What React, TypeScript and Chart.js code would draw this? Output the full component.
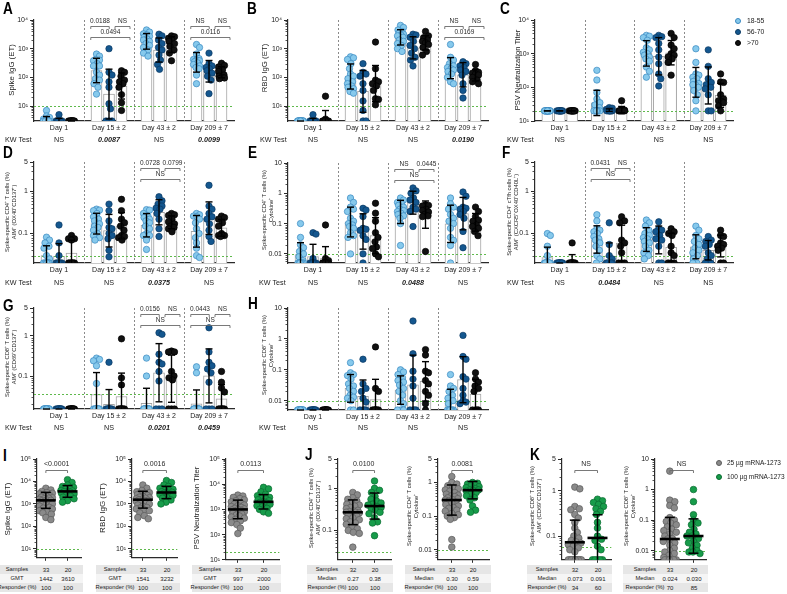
import React, { useEffect, useRef } from "react";
import { Chart, registerables } from "chart.js";

Chart.register(...registerables);

const FONT = "'Liberation Sans', Arial, Helvetica, sans-serif";
Chart.defaults.font.family = FONT;
Chart.defaults.color = "#1a1a1a";

// ---------- labels ----------
const DAYS = ["Day 1", "Day 15 ± 2", "Day 43 ± 2", "Day 209 ± 7"];
const AGE_GROUPS = ["18-55", "56-70", ">70"];
const DOSES = ["25 µg mRNA-1273", "100 µg mRNA-1273"];

const IGG_TICKS = [10, 100, 1000, 10000];
const IGG_TICK_LABELS = ["10¹", "10²", "10³", "10⁴"];
const IGG5_TICKS = [10, 100, 1000, 10000, 100000];
const IGG5_TICK_LABELS = ["10¹", "10²", "10³", "10⁴", "10⁵"];
const PCT5_TICKS = [0.1, 1, 5];
const PCT5_TICK_LABELS = ["0.1", "1", "5"];
const PCT10_TICKS = [0.01, 0.1, 1, 10];
const PCT10_TICK_LABELS = ["0.01", "0.1", "1", "10"];
const PCT5B_TICKS = [0.01, 0.1, 1, 5];
const PCT5B_TICK_LABELS = ["0.01", "0.1", "1", "5"];

// ---------- Panel A: Spike IgG (ET) ----------
const A_18_55 = [
  [7, 4.5, 4, 3.5, 3.5, 3, 3, 3, 3, 3, 3, 3, 3, 3, 3],
  [650, 550, 420, 400, 380, 300, 250, 250, 150, 120, 90, 80, 60, 45, 26],
  [4500, 3800, 3300, 3000, 2700, 2500, 2200, 2000, 1800, 1500, 1300, 1100, 900, 700, 550],
  [1400, 1100, 650, 450, 420, 400, 380, 350, 320, 280, 250, 220, 200, 120, 60],
];
const A_56_70 = [
  [5, 3, 3, 3, 3, 3, 3, 3, 3, 3],
  [1000, 150, 120, 70, 45, 12, 8, 3, 3, 3],
  [3200, 2800, 2000, 1500, 1100, 900, 600, 400, 280, 190],
  [700, 300, 250, 220, 200, 170, 140, 110, 80, 27],
];
const A_70 = [
  [3, 3, 3, 3, 3, 3, 3, 3, 3, 3],
  [170, 150, 110, 80, 70, 60, 45, 25, 13, 7],
  [2800, 2600, 2300, 2000, 1800, 1500, 1200, 900, 700, 380],
  [310, 260, 230, 180, 160, 120, 110, 100, 95, 90],
];
// ---------- Panel B: RBD IgG (ET) ----------
const B_18_55 = [
  [3, 3, 3, 3, 3, 3, 3, 3, 3, 3, 3, 3, 3, 3, 3],
  [520, 480, 420, 300, 200, 130, 110, 90, 70, 60, 50, 45, 40, 32, 28],
  [6500, 5500, 4500, 4000, 3500, 3200, 3000, 2800, 2500, 2000, 1800, 1500, 1300, 1000, 800],
  [1400, 500, 400, 300, 250, 220, 200, 180, 160, 130, 100, 70, 60],
];
const B_56_70 = [
  [5, 3, 3, 3, 3, 3, 3, 3, 3, 3],
  [300, 150, 130, 110, 60, 35, 15, 7, 3, 3],
  [3200, 3000, 2500, 1800, 1300, 1000, 700, 500, 400, 250],
  [350, 300, 250, 220, 180, 160, 120, 60, 35, 19],
];
const B_70 = [
  [22, 3.5, 3, 3, 3, 3, 3, 3, 3, 3],
  [1700, 200, 80, 70, 60, 50, 35, 18, 17, 11],
  [4000, 2800, 2400, 2000, 1800, 1600, 1400, 1100, 800, 600],
  [280, 170, 150, 140, 130, 120, 100, 80, 70, 60],
];
// ---------- Panel C: PSV Neutralization Titer ----------
const C_18_55 = [
  [20, 20, 20, 20, 20, 20, 20, 20, 20, 20, 20, 20, 20, 20, 20],
  [320, 165, 70, 45, 35, 30, 25, 20, 20, 20, 20, 20, 20, 20, 20],
  [3500, 3300, 3000, 2500, 1500, 1300, 1100, 1000, 900, 800, 700, 600, 400, 300, 200],
  [1400, 550, 250, 230, 200, 180, 150, 130, 120, 120, 100, 80, 60, 40, 20],
];
const C_56_70 = [
  [20, 20, 20, 20, 20, 20, 20, 20, 20, 20],
  [25, 24, 22, 20, 20, 20, 20, 20, 20, 20],
  [3500, 3200, 3000, 2000, 1300, 800, 500, 250, 180, 110],
  [1300, 420, 180, 140, 120, 100, 90, 60, 20, 20],
];
const C_70 = [
  [20, 20, 20, 20, 20, 20, 20, 20, 20, 20],
  [40, 22, 21, 20, 20, 20, 20, 20, 20, 20],
  [4000, 3000, 1800, 1400, 1000, 900, 800, 700, 550, 230],
  [250, 145, 140, 60, 45, 40, 38, 35, 28, 20],
];
// ---------- Panel D: CD4 AIM+ (OX40+CD137+) ----------
const D_18_55 = [
  [0.082, 0.07, 0.06, 0.05, 0.045, 0.03, 0.025, 0.02, 0.02, 0.02, 0.02, 0.02, 0.02, 0.02, 0.02],
  [0.38, 0.36, 0.35, 0.3, 0.25, 0.22, 0.2, 0.17, 0.15, 0.14, 0.12, 0.1, 0.09, 0.08, 0.07],
  [0.37, 0.36, 0.3, 0.26, 0.24, 0.22, 0.2, 0.18, 0.15, 0.13, 0.1, 0.09, 0.09, 0.07, 0.042],
  [0.3, 0.28, 0.26, 0.25, 0.22, 0.18, 0.13, 0.1, 0.08, 0.06, 0.045, 0.03, 0.027],
];
const D_56_70 = [
  [0.16, 0.06, 0.03, 0.02, 0.02, 0.02, 0.02, 0.02, 0.02, 0.02],
  [0.5, 0.35, 0.2, 0.14, 0.13, 0.1, 0.09, 0.075, 0.04, 0.028],
  [0.75, 0.6, 0.5, 0.45, 0.4, 0.38, 0.3, 0.22, 0.13, 0.085],
  [1.4, 0.45, 0.38, 0.3, 0.25, 0.22, 0.17, 0.12, 0.085, 0.065],
];
const D_70 = [
  [0.09, 0.075, 0.075, 0.07, 0.02, 0.02, 0.02, 0.02, 0.02, 0.02],
  [0.65, 0.35, 0.22, 0.18, 0.15, 0.12, 0.09, 0.085, 0.08, 0.07],
  [0.3, 0.28, 0.27, 0.22, 0.19, 0.17, 0.15, 0.14, 0.13, 0.11],
  [0.26, 0.24, 0.22, 0.18, 0.15, 0.1, 0.09, 0.09, 0.09, 0.085],
];
// ---------- Panel E: CD4 Cytokine+ ----------
const E_18_55 = [
  [0.1, 0.035, 0.02, 0.016, 0.012, 0.01, 0.008, 0.006, 0.005, 0.005, 0.005, 0.005, 0.005, 0.005, 0.005],
  [0.7, 0.5, 0.35, 0.3, 0.25, 0.15, 0.12, 0.1, 0.09, 0.08, 0.07, 0.05, 0.04, 0.035, 0.01],
  [0.7, 0.6, 0.5, 0.45, 0.4, 0.35, 0.3, 0.27, 0.25, 0.22, 0.2, 0.18, 0.15, 0.1, 0.019],
  [0.7, 0.45, 0.35, 0.3, 0.2, 0.15, 0.12, 0.1, 0.07, 0.035, 0.028, 0.019, 0.005],
];
const E_56_70 = [
  [0.05, 0.045, 0.007, 0.005, 0.005, 0.005, 0.005, 0.005, 0.005, 0.005],
  [0.32, 0.28, 0.17, 0.07, 0.065, 0.06, 0.04, 0.03, 0.01, 0.005],
  [1.5, 1.2, 1.0, 0.7, 0.6, 0.5, 0.35, 0.3, 0.25, 0.08],
  [1.1, 0.8, 0.35, 0.32, 0.3, 0.25, 0.2, 0.15, 0.055, 0.016],
];
const E_70 = [
  [0.09, 0.007, 0.006, 0.005, 0.005, 0.005, 0.005, 0.005, 0.005, 0.005],
  [0.47, 0.22, 0.12, 0.05, 0.035, 0.025, 0.017, 0.015, 0.01, 0.008],
  [0.42, 0.4, 0.38, 0.3, 0.27, 0.24, 0.2, 0.18, 0.17, 0.012],
  [0.35, 0.25, 0.17, 0.13, 0.12, 0.09, 0.08, 0.07, 0.055, 0.04],
];
// ---------- Panel F: CD4 cTfh AIM+ ----------
const F_18_55 = [
  [0.1, 0.09, 0.05, 0.03, 0.02, 0.02, 0.02, 0.02, 0.02, 0.02, 0.02, 0.02, 0.02, 0.02, 0.02],
  [0.28, 0.2, 0.13, 0.12, 0.11, 0.1, 0.085, 0.075, 0.07, 0.06, 0.05, 0.04, 0.03, 0.025, 0.02],
  [0.21, 0.18, 0.15, 0.12, 0.1, 0.09, 0.08, 0.075, 0.065, 0.06, 0.05, 0.04, 0.035, 0.03, 0.025],
  [0.15, 0.12, 0.09, 0.075, 0.065, 0.055, 0.045, 0.04, 0.035, 0.03, 0.025, 0.02, 0.02],
];
const F_56_70 = [
  [0.02, 0.02, 0.02, 0.02, 0.02, 0.02, 0.02, 0.02, 0.02, 0.02],
  [0.18, 0.055, 0.03, 0.025, 0.02, 0.02, 0.02, 0.02, 0.02, 0.02],
  [0.19, 0.13, 0.12, 0.11, 0.09, 0.075, 0.07, 0.05, 0.02, 0.02],
  [0.085, 0.07, 0.065, 0.055, 0.05, 0.035, 0.03, 0.025, 0.02, 0.02],
];
const F_70 = [
  [0.06, 0.02, 0.02, 0.02, 0.02, 0.02, 0.02, 0.02, 0.02, 0.02],
  [0.25, 0.2, 0.18, 0.07, 0.06, 0.05, 0.035, 0.02, 0.02, 0.02],
  [0.13, 0.11, 0.1, 0.09, 0.05, 0.035, 0.03, 0.02, 0.02, 0.02],
  [0.12, 0.09, 0.085, 0.06, 0.055, 0.05, 0.045, 0.04, 0.02, 0.02],
];
// ---------- Panel G: CD8 AIM+ (CD69+CD137+) ----------
const G_18_55 = [
  [0.015, 0.015, 0.015, 0.015, 0.015, 0.015, 0.015, 0.015, 0.015, 0.015, 0.015, 0.015, 0.015, 0.015, 0.015],
  [0.28, 0.26, 0.24, 0.18, 0.065, 0.015, 0.015, 0.015, 0.015, 0.015, 0.015, 0.015, 0.015, 0.015, 0.015],
  [0.28, 0.1, 0.015, 0.015, 0.015, 0.015, 0.015, 0.015, 0.015, 0.015, 0.015, 0.015, 0.015, 0.015, 0.015],
  [0.17, 0.12, 0.015, 0.015, 0.015, 0.015, 0.015, 0.015, 0.015, 0.015, 0.015, 0.015, 0.015, 0.015, 0.015],
];
const G_56_70 = [
  [0.015, 0.015, 0.015, 0.015, 0.015, 0.015, 0.015, 0.015, 0.015, 0.015],
  [0.22, 0.015, 0.015, 0.015, 0.015, 0.015, 0.015, 0.015, 0.015, 0.015],
  [1.2, 1.1, 0.35, 0.22, 0.2, 0.13, 0.075, 0.015, 0.015, 0.015],
  [1.6, 0.4, 0.22, 0.18, 0.15, 0.12, 0.07, 0.015, 0.015, 0.015],
];
const G_70 = [
  [0.015, 0.015, 0.015, 0.015, 0.015, 0.015, 0.015, 0.015, 0.015, 0.015],
  [0.85, 0.09, 0.06, 0.015, 0.015, 0.015, 0.015, 0.015, 0.015, 0.015],
  [0.42, 0.4, 0.4, 0.13, 0.1, 0.09, 0.08, 0.015, 0.015, 0.015],
  [0.13, 0.07, 0.05, 0.04, 0.015, 0.015, 0.015, 0.015, 0.015, 0.015],
];
// ---------- Panel H: CD8 Cytokine+ ----------
const H_18_55 = [
  [0.005, 0.005, 0.005, 0.005, 0.005, 0.005, 0.005, 0.005, 0.005, 0.005, 0.005, 0.005, 0.005, 0.005, 0.005],
  [0.17, 0.08, 0.07, 0.065, 0.05, 0.035, 0.03, 0.025, 0.02, 0.015, 0.013, 0.012, 0.01, 0.005, 0.005],
  [0.1, 0.085, 0.07, 0.055, 0.045, 0.04, 0.032, 0.025, 0.02, 0.015, 0.01, 0.008, 0.005, 0.005, 0.005],
  [0.07, 0.03, 0.025, 0.02, 0.015, 0.012, 0.01, 0.008, 0.005, 0.005, 0.005, 0.005, 0.005, 0.005, 0.005],
];
const H_56_70 = [
  [0.005, 0.005, 0.005, 0.005, 0.005, 0.005, 0.005, 0.005, 0.005, 0.005],
  [0.22, 0.035, 0.025, 0.02, 0.012, 0.009, 0.005, 0.005, 0.005, 0.005],
  [3.8, 0.33, 0.09, 0.05, 0.03, 0.012, 0.005, 0.005, 0.005, 0.005],
  [1.3, 0.27, 0.22, 0.06, 0.05, 0.025, 0.015, 0.01, 0.009, 0.008],
];
const H_70 = [
  [0.005, 0.005, 0.005, 0.005, 0.005, 0.005, 0.005, 0.005, 0.005, 0.005],
  [0.55, 0.025, 0.02, 0.005, 0.005, 0.005, 0.005, 0.005, 0.005, 0.005],
  [0.45, 0.3, 0.09, 0.08, 0.045, 0.035, 0.02, 0.015, 0.008, 0.005],
  [0.08, 0.05, 0.04, 0.03, 0.025, 0.02, 0.005, 0.005, 0.005, 0.005],
];

// ---------- significance brackets (day index, first bar, last bar, label) ----------
const A_BRACKETS = [
  { day: 1, a: 0, b: 1, text: "0.0188" }, { day: 1, a: 1, b: 2, text: "NS" }, { day: 1, a: 0, b: 2, text: "0.0494" },
  { day: 3, a: 0, b: 1, text: "NS" }, { day: 3, a: 1, b: 2, text: "NS" }, { day: 3, a: 0, b: 2, text: "0.0116" },
];
const B_BRACKETS = [
  { day: 3, a: 0, b: 1, text: "NS" }, { day: 3, a: 1, b: 2, text: "NS" }, { day: 3, a: 0, b: 2, text: "0.0169" },
];
const C_BRACKETS: any[] = [];
const D_BRACKETS = [
  { day: 2, a: 0, b: 1, text: "0.0728" }, { day: 2, a: 1, b: 2, text: "0.0799" }, { day: 2, a: 0, b: 2, text: "NS" },
];
const E_BRACKETS = [
  { day: 2, a: 0, b: 1, text: "NS" }, { day: 2, a: 1, b: 2, text: "0.0445" }, { day: 2, a: 0, b: 2, text: "NS" },
];
const F_BRACKETS = [
  { day: 1, a: 0, b: 1, text: "0.0431" }, { day: 1, a: 1, b: 2, text: "NS" }, { day: 1, a: 0, b: 2, text: "NS" },
];
const G_BRACKETS = [
  { day: 2, a: 0, b: 1, text: "0.0156" }, { day: 2, a: 1, b: 2, text: "NS" }, { day: 2, a: 0, b: 2, text: "NS" },
  { day: 3, a: 0, b: 1, text: "0.0443" }, { day: 3, a: 1, b: 2, text: "NS" }, { day: 3, a: 0, b: 2, text: "NS" },
];
const H_BRACKETS: any[] = [];

// ---------- Kruskal-Wallis rows ----------
const KW_A = ["NS", "0.0087", "NS", "0.0099"];
const KW_B = ["NS", "NS", "NS", "0.0190"];
const KW_C = ["NS", "NS", "NS", "NS"];
const KW_D = ["NS", "NS", "0.0375", "NS"];
const KW_E = ["NS", "NS", "0.0488", "NS"];
const KW_F = ["NS", "0.0484", "NS", "NS"];
const KW_G = ["NS", "NS", "0.0201", "0.0459"];
const KW_H = ["NS", "NS", "NS", "NS"];

// ---------- Panels I-K: 25 µg vs 100 µg ----------
const I_SPIKE_25 = [5000, 4200, 3600, 3200, 3000, 2800, 2600, 2400, 2200, 2000, 1900, 1800, 1700, 1600, 1500, 1450, 1400, 1300, 1200, 1100, 1000, 950, 900, 800, 700, 650, 600, 500, 450, 400, 350, 250, 200];
const I_SPIKE_100 = [12000, 9000, 7000, 6000, 5500, 5000, 4500, 4000, 3800, 3600, 3500, 3300, 3000, 2800, 2500, 2200, 2000, 1700, 1400, 1200];
const I_RBD_25 = [7000, 5000, 4000, 3500, 3200, 3000, 2800, 2600, 2400, 2200, 2000, 1900, 1800, 1700, 1600, 1500, 1450, 1400, 1300, 1200, 1100, 1000, 900, 800, 700, 650, 600, 550, 500, 400, 300, 250, 220];
const I_RBD_100 = [11000, 9000, 7000, 6000, 5000, 4500, 4000, 3800, 3500, 3300, 3200, 3000, 2800, 2600, 2400, 2000, 1800, 1500, 1200, 1000];
const I_PSV_25 = [3700, 3400, 3000, 2700, 2400, 2200, 2000, 1800, 1600, 1500, 1400, 1300, 1200, 1100, 1050, 1000, 950, 900, 850, 800, 750, 700, 650, 600, 550, 500, 450, 400, 350, 300, 250, 180, 110];
const I_PSV_100 = [7500, 6500, 5000, 4000, 3500, 3000, 2800, 2600, 2400, 2200, 2000, 1900, 1800, 1600, 1400, 1300, 1100, 1000, 800, 700];
const J_AIM_25 = [0.8, 0.7, 0.6, 0.55, 0.5, 0.45, 0.42, 0.4, 0.38, 0.35, 0.33, 0.3, 0.29, 0.28, 0.27, 0.27, 0.26, 0.25, 0.24, 0.22, 0.2, 0.19, 0.18, 0.16, 0.15, 0.14, 0.12, 0.11, 0.1, 0.09, 0.085, 0.04];
const J_AIM_100 = [1.5, 1.0, 0.9, 0.8, 0.65, 0.55, 0.5, 0.45, 0.42, 0.4, 0.37, 0.35, 0.32, 0.3, 0.27, 0.25, 0.2, 0.16, 0.15, 0.075];
const J_CYT_25 = [1.5, 1.0, 0.9, 0.8, 0.7, 0.65, 0.6, 0.55, 0.5, 0.45, 0.42, 0.4, 0.38, 0.35, 0.33, 0.31, 0.3, 0.28, 0.26, 0.25, 0.22, 0.2, 0.18, 0.17, 0.15, 0.14, 0.12, 0.11, 0.1, 0.09, 0.08, 0.02, 0.012];
const J_CYT_100 = [1.0, 0.95, 0.9, 0.85, 0.8, 0.75, 0.7, 0.65, 0.6, 0.6, 0.58, 0.55, 0.5, 0.45, 0.4, 0.35, 0.3, 0.2, 0.15, 0.13];
const K_AIM_25 = [1.2, 1.1, 0.45, 0.4, 0.38, 0.3, 0.25, 0.2, 0.15, 0.12, 0.1, 0.09, 0.08, 0.075, 0.07, 0.065, 0.06, 0.055, 0.05, 0.045, 0.03, 0.03, 0.03, 0.03, 0.03, 0.03, 0.03, 0.03, 0.03, 0.03, 0.03, 0.03];
const K_AIM_100 = [0.65, 0.6, 0.55, 0.5, 0.45, 0.4, 0.35, 0.3, 0.2, 0.15, 0.1, 0.085, 0.08, 0.06, 0.05, 0.03, 0.03, 0.03, 0.03, 0.03];
const K_CYT_25 = [4.0, 0.45, 0.4, 0.3, 0.25, 0.12, 0.1, 0.09, 0.08, 0.07, 0.06, 0.05, 0.045, 0.04, 0.035, 0.03, 0.025, 0.024, 0.02, 0.018, 0.015, 0.012, 0.01, 0.009, 0.008, 0.007, 0.006, 0.005, 0.005, 0.005, 0.005, 0.005, 0.005];
const K_CYT_100 = [1.0, 0.4, 0.15, 0.1, 0.08, 0.07, 0.05, 0.04, 0.035, 0.03, 0.03, 0.025, 0.02, 0.018, 0.015, 0.012, 0.01, 0.009, 0.009, 0.008];

// centre lines (GMT for I, median for J/K) and table rows
const I_SPIKE_TABLE = [["Samples", "33", "20"], ["GMT", "1442", "3610"], ["Responder (%)", "100", "100"]];
const I_RBD_TABLE = [["Samples", "33", "20"], ["GMT", "1541", "3232"], ["Responder (%)", "100", "100"]];
const I_PSV_TABLE = [["Samples", "33", "20"], ["GMT", "997", "2000"], ["Responder (%)", "100", "100"]];
const J_AIM_TABLE = [["Samples", "32", "20"], ["Median", "0.27", "0.38"], ["Responder (%)", "100", "100"]];
const J_CYT_TABLE = [["Samples", "33", "20"], ["Median", "0.30", "0.59"], ["Responder (%)", "100", "100"]];
const K_AIM_TABLE = [["Samples", "32", "20"], ["Median", "0.073", "0.091"], ["Responder (%)", "34", "60"]];
const K_CYT_TABLE = [["Samples", "33", "20"], ["Median", "0.024", "0.030"], ["Responder (%)", "70", "85"]];
const I_SPIKE_CENTER = [1442, 3610];
const I_RBD_CENTER = [1541, 3232];
const I_PSV_CENTER = [997, 2000];
const J_AIM_CENTER = [0.27, 0.38];
const J_CYT_CENTER = [0.3, 0.59];
const K_AIM_CENTER = [0.073, 0.091];
const K_CYT_CENTER = [0.024, 0.03];
const P_I = ["<0.0001", "0.0016", "0.0113"];
const P_J = ["0.0100", "0.0081"];
const P_K = ["NS", "NS"];

// ---------- styles ----------
const AGE_FILL = ["#86c9ec", "#14578f", "#111111"];
const AGE_EDGE = ["#3a88c0", "#0b3a63", "#000000"];
const DOSE_FILL = ["#8a8a8a", "#179c4a"];
const DOSE_EDGE = ["#5c5c5c", "#0a6a30"];
const LOD_COLOR = "#5fb94c";
const AXIS_COLOR = "#2a2a2a";

function geoStats(vals: number[]) {
  const logs = vals.map((v) => Math.log10(v));
  const m = logs.reduce((a, b) => a + b, 0) / logs.length;
  const sd = logs.length > 1 ? Math.sqrt(logs.reduce((a, b) => a + (b - m) * (b - m), 0) / (logs.length - 1)) : 0;
  return { gm: Math.pow(10, m), gsd: Math.pow(10, sd) };
}

function beeswarm(ys: number[], minDist: number, maxHalf: number): number[] {
  const order = ys.map((_, i) => i).sort((a, b) => ys[a] - ys[b]);
  const cands: number[] = [0];
  for (let d = 0.5; d <= maxHalf + 1e-9; d += 0.5) cands.push(d, -d);
  const placed: { x: number; y: number }[] = [];
  const out = new Array(ys.length).fill(0);
  for (const i of order) {
    const y = ys[i];
    let chosen: number | null = null;
    for (const c of cands) {
      let ok = true;
      for (const q of placed) {
        const dx = q.x - c, dy = q.y - y;
        if (dx * dx + dy * dy < minDist * minDist) { ok = false; break; }
      }
      if (ok) { chosen = c; break; }
    }
    if (chosen === null) {
      let best = 0, bestD = -1;
      for (const c of cands) {
        let m = Infinity;
        for (const q of placed) m = Math.min(m, Math.hypot(q.x - c, q.y - y));
        if (m > bestD + 0.05) { bestD = m; best = c; }
      }
      chosen = best;
    }
    out[i] = chosen;
    placed.push({ x: chosen, y });
  }
  return out;
}

const labelFor = (ticks: number[], labels: string[]) => (v: any) => {
  const i = ticks.findIndex((t) => Math.abs(Math.log10(t) - Math.log10(Number(v))) < 1e-6);
  return i >= 0 ? labels[i] : "";
};

function drawMinorTicks(chart: any, ticks: number[]) {
  const y = chart.scales.y;
  const ax = chart.chartArea.left;
  const ctx = chart.ctx;
  ctx.save();
  ctx.strokeStyle = AXIS_COLOR;
  ctx.lineWidth = 0.8;
  const k0 = Math.floor(Math.log10(y.min)), k1 = Math.ceil(Math.log10(y.max));
  for (let k = k0; k <= k1; k++) {
    for (let m = 2; m <= 9; m++) {
      const v = m * Math.pow(10, k);
      if (v <= y.min * 1.0001 || v >= y.max * 0.9999) continue;
      if (ticks.some((t) => Math.abs(t - v) / t < 1e-6)) continue;
      const py = Math.round(y.getPixelForValue(v)) + 0.5;
      ctx.beginPath();
      ctx.moveTo(ax - 2.5, py);
      ctx.lineTo(ax, py);
      ctx.stroke();
    }
  }
  ctx.restore();
}

function yScale(min: number, max: number, ticks: number[], labels: string[], width: number) {
  return {
    type: "logarithmic",
    min, max,
    grid: { display: true, drawOnChartArea: false, drawTicks: true, tickLength: 4, color: AXIS_COLOR, lineWidth: 1 },
    border: { display: true, color: AXIS_COLOR, width: 1.2 },
    afterBuildTicks: (s: any) => { s.ticks = ticks.map((v) => ({ value: v })); },
    afterFit: (s: any) => { s.width = width; },
    ticks: { callback: labelFor(ticks, labels), font: { size: 7 }, padding: 2, autoSkip: false, color: "#1a1a1a" },
  };
}

type Bracket = { day: number; a: number; b: number; text: string };

type GroupedProps = {
  axisX: number; plotRight: number; plotTop: number; plotBottom: number;
  yMin: number; yMax: number; ticks: number[]; tickLabels: string[];
  groups: number[][][]; lod: number; brackets: Bracket[];
};

function GroupedPanel(p: GroupedProps) {
  const ref = useRef<HTMLCanvasElement>(null);
  const yW = 30, padTop = 8, padRight = 6, xH = 16;
  const left = p.axisX - yW, top = p.plotTop - padTop;
  const width = p.plotRight + padRight - left, height = p.plotBottom + xH - top;
  useEffect(() => {
    const bars: { x: number; y: number }[] = [];
    const errs: { x: number; lo: number; hi: number }[] = [];
    const pointSets = p.groups.map((g, k) => {
      const pts: { x: number; y: number; base: number }[] = [];
      g.forEach((vals, d) => {
        const x = 4 * d + 1 + k;
        const s = geoStats(vals);
        bars.push({ x, y: s.gm });
        errs.push({ x, lo: s.gm / s.gsd, hi: s.gm * s.gsd });
        vals.forEach((v) => pts.push({ x, y: v, base: x }));
      });
      return pts;
    });
    const deco = {
      id: "deco",
      afterDatasetDraw(chart: any, args: any) {
        if (args.index !== 0) return;
        const { ctx, chartArea: a, scales } = chart;
        ctx.save();
        ctx.lineWidth = 1;
        ctx.setLineDash([2, 2]);
        ctx.strokeStyle = "#8a8a8a";
        [4, 8, 12].forEach((v) => {
          const px = Math.round(scales.x.getPixelForValue(v)) + 0.5;
          ctx.beginPath(); ctx.moveTo(px, a.top); ctx.lineTo(px, a.bottom); ctx.stroke();
        });
        ctx.strokeStyle = LOD_COLOR;
        const ly = Math.round(scales.y.getPixelForValue(p.lod)) + 0.5;
        ctx.beginPath(); ctx.moveTo(a.left, ly); ctx.lineTo(a.right, ly); ctx.stroke();
        ctx.restore();
      },
      afterDatasetsDraw(chart: any) {
        const { ctx, chartArea: a, scales } = chart;
        const x = scales.x, y = scales.y;
        ctx.save();
        ctx.strokeStyle = "#000";
        ctx.lineWidth = 1.4;
        errs.forEach((e) => {
          const px = x.getPixelForValue(e.x);
          const hiRaw = y.getPixelForValue(e.hi), loRaw = y.getPixelForValue(e.lo);
          const hi = Math.max(hiRaw, a.top), lo = Math.min(loRaw, a.bottom);
          ctx.beginPath(); ctx.moveTo(px, hi); ctx.lineTo(px, lo); ctx.stroke();
          ctx.beginPath(); ctx.moveTo(px - 3.5, hi); ctx.lineTo(px + 3.5, hi); ctx.stroke();
          if (loRaw < a.bottom - 0.5) { ctx.beginPath(); ctx.moveTo(px - 3.5, lo); ctx.lineTo(px + 3.5, lo); ctx.stroke(); }
        });
        // brackets
        ctx.lineWidth = 0.9;
        ctx.strokeStyle = "#6a6a6a";
        ctx.fillStyle = "#2a2a2a";
        ctx.font = `6.5px ${FONT}`;
        ctx.textAlign = "center";
        ctx.textBaseline = "middle";
        p.brackets.forEach((b) => {
          const base = 4 * b.day + 1;
          let x0: number, x1: number, row: number;
          if (b.b - b.a === 2) { x0 = base - 0.46; x1 = base + 2.68; row = 1; }
          else if (b.a === 0) { x0 = base - 0.46; x1 = base + 1.02; row = 0; }
          else { x0 = base + 1.48; x1 = base + 2.68; row = 0; }
          const yy = Math.round(a.top + (row ? 17 : 6)) + 0.5;
          const p0 = x.getPixelForValue(x0), p1 = x.getPixelForValue(x1);
          ctx.beginPath();
          ctx.moveTo(p0, yy + 2.5); ctx.lineTo(p0, yy); ctx.lineTo(p1, yy); ctx.lineTo(p1, yy + 2.5);
          ctx.stroke();
          ctx.fillText(b.text, (p0 + p1) / 2, yy - 5);
        });
        ctx.restore();
      },
      afterDraw(chart: any) { drawMinorTicks(chart, p.ticks); },
    };
    const chart = new Chart(ref.current as HTMLCanvasElement, {
      type: "bar",
      data: {
        datasets: [
          { type: "bar", data: bars, backgroundColor: "#ffffff", borderColor: "#a4a4a4", borderWidth: 1, barThickness: 11, order: 5 } as any,
          ...pointSets.map((pts, k) => ({
            type: "scatter", data: pts, backgroundColor: AGE_FILL[k], borderColor: AGE_EDGE[k],
            borderWidth: 0.7, pointRadius: 3.2, order: 1,
          })) as any,
        ],
      },
      options: {
        animation: false, responsive: false, devicePixelRatio: 1, events: [],
        layout: { padding: { top: padTop, right: padRight, left: 0, bottom: 0 } },
        plugins: { legend: { display: false }, tooltip: { enabled: false } },
        scales: {
          x: {
            type: "linear", min: 0, max: 16, offset: false,
            grid: { display: false, drawTicks: false, offset: false },
            border: { display: true, color: AXIS_COLOR, width: 1.2 },
            afterBuildTicks: (s: any) => { s.ticks = [2, 6, 10, 14].map((v) => ({ value: v })); },
            afterFit: (s: any) => { s.height = xH; },
            ticks: { callback: (_v: any, i: number) => DAYS[i], font: { size: 7 }, padding: 3, maxRotation: 0, autoSkip: false, color: "#1a1a1a" },
          },
          y: yScale(p.yMin, p.yMax, p.ticks, p.tickLabels, yW),
        } as any,
      },
      plugins: [deco],
    } as any);
    // spread points horizontally inside each column (beeswarm)
    const xs = chart.scales.x, ys = chart.scales.y;
    const pxPerUnit = xs.getPixelForValue(1) - xs.getPixelForValue(0);
    pointSets.forEach((pts) => {
      for (let d = 0; d < 4; d++) {
        const idx = pts.map((q, i) => i).filter((i) => Math.floor((pts[i].base - 1) / 4) === d);
        const off = beeswarm(idx.map((i) => ys.getPixelForValue(pts[i].y)), 5.2, 3.2);
        idx.forEach((i, j) => { pts[i].x = pts[i].base + off[j] / pxPerUnit; });
      }
    });
    chart.update("none");
    return () => chart.destroy();
  }, []);
  return <canvas ref={ref} width={width} height={height} style={{ position: "absolute", left, top, width, height }} />;
}

type PairProps = {
  axisX: number; plotRight: number; plotTop: number; plotBottom: number; cols: number[];
  yMin: number; yMax: number; ticks: number[]; tickLabels: string[];
  low: number[]; high: number[]; centers: number[]; lod: number; pText: string;
};

function PairPanel(p: PairProps) {
  const ref = useRef<HTMLCanvasElement>(null);
  const yW = 28, padTop = 8, padRight = 4, xH = 4;
  const left = p.axisX - yW, top = p.plotTop - padTop;
  const width = p.plotRight + padRight - left, height = p.plotBottom + xH + 2 - top;
  useEffect(() => {
    const u = p.cols[1] - p.cols[0];
    const xmin = -(p.cols[0] - p.axisX) / u;
    const xmax = 1 + (p.plotRight - p.cols[1]) / u;
    const sets = [p.low, p.high].map((vals, k) => vals.map((v) => ({ x: k, y: v, base: k })));
    const deco = {
      id: "deco2",
      beforeDatasetsDraw(chart: any) {
        const { ctx, chartArea: a, scales } = chart;
        ctx.save();
        ctx.lineWidth = 1; ctx.setLineDash([2, 2]); ctx.strokeStyle = LOD_COLOR;
        const ly = Math.round(scales.y.getPixelForValue(p.lod)) + 0.5;
        ctx.beginPath(); ctx.moveTo(a.left, ly); ctx.lineTo(a.right, ly); ctx.stroke();
        ctx.restore();
      },
      afterDatasetsDraw(chart: any) {
        const { ctx, chartArea: a, scales } = chart;
        const x = scales.x, y = scales.y;
        ctx.save();
        ctx.strokeStyle = "#000";
        [p.low, p.high].forEach((vals, k) => {
          const s = geoStats(vals);
          const c = p.centers[k];
          const px = x.getPixelForValue(k);
          const hiRaw = y.getPixelForValue(c * s.gsd), loRaw = y.getPixelForValue(c / s.gsd);
          const hi = Math.max(hiRaw, a.top), lo = Math.min(loRaw, a.bottom);
          ctx.lineWidth = 1.5;
          ctx.beginPath(); ctx.moveTo(px, hi); ctx.lineTo(px, lo); ctx.stroke();
          ctx.beginPath(); ctx.moveTo(px - 5, hi); ctx.lineTo(px + 5, hi); ctx.stroke();
          if (loRaw < a.bottom - 0.5) { ctx.beginPath(); ctx.moveTo(px - 5, lo); ctx.lineTo(px + 5, lo); ctx.stroke(); }
          ctx.lineWidth = 2.6;
          const cy = y.getPixelForValue(c);
          ctx.beginPath(); ctx.moveTo(px - 10, cy); ctx.lineTo(px + 10, cy); ctx.stroke();
        });
        // bracket
        ctx.lineWidth = 0.9; ctx.strokeStyle = "#6a6a6a"; ctx.fillStyle = "#2a2a2a";
        ctx.font = `7px ${FONT}`; ctx.textAlign = "center"; ctx.textBaseline = "middle";
        const yy = Math.round(a.top + 11) + 0.5;
        const p0 = x.getPixelForValue(0), p1 = x.getPixelForValue(1);
        ctx.beginPath(); ctx.moveTo(p0, yy + 2.5); ctx.lineTo(p0, yy); ctx.lineTo(p1, yy); ctx.lineTo(p1, yy + 2.5); ctx.stroke();
        ctx.fillText(p.pText, (p0 + p1) / 2, yy - 6);
        ctx.restore();
      },
      afterDraw(chart: any) { drawMinorTicks(chart, p.ticks); },
    };
    const chart = new Chart(ref.current as HTMLCanvasElement, {
      type: "scatter",
      data: {
        datasets: sets.map((pts, k) => ({
          data: pts, backgroundColor: DOSE_FILL[k], borderColor: DOSE_EDGE[k], borderWidth: 0.7, pointRadius: 3.3,
        })) as any,
      },
      options: {
        animation: false, responsive: false, devicePixelRatio: 1, events: [],
        layout: { padding: { top: padTop, right: padRight, left: 0, bottom: 2 } },
        plugins: { legend: { display: false }, tooltip: { enabled: false } },
        scales: {
          x: {
            type: "linear", min: xmin, max: xmax, offset: false,
            grid: { display: true, drawOnChartArea: false, drawTicks: true, tickLength: 3, color: AXIS_COLOR },
            border: { display: true, color: AXIS_COLOR, width: 1.2 },
            afterBuildTicks: (s: any) => { s.ticks = [0, 1].map((v) => ({ value: v })); },
            afterFit: (s: any) => { s.height = xH; },
            ticks: { display: false },
          },
          y: yScale(p.yMin, p.yMax, p.ticks, p.tickLabels, yW),
        } as any,
      },
      plugins: [deco],
    } as any);
    const xs = chart.scales.x, ys = chart.scales.y;
    const pxPerUnit = xs.getPixelForValue(1) - xs.getPixelForValue(0);
    sets.forEach((pts) => {
      const off = beeswarm(pts.map((q) => ys.getPixelForValue(q.y)), 5, 6.5);
      pts.forEach((q, i) => { q.x = q.base + off[i] / pxPerUnit; });
    });
    chart.update("none");
    return () => chart.destroy();
  }, []);
  return <canvas ref={ref} width={width} height={height} style={{ position: "absolute", left, top, width, height }} />;
}

// ---------- HTML text helpers ----------
function Txt(props: { x: number; y: number; size?: number; align?: "left" | "center"; bold?: boolean; italic?: boolean; children: any; color?: string }) {
  const { x, y, size = 7.2, align = "center", bold, italic, children, color = "#1a1a1a" } = props;
  return (
    <div style={{
      position: "absolute", left: x, top: y, whiteSpace: "nowrap", fontSize: size, lineHeight: 1,
      transform: align === "center" ? "translate(-50%, -50%)" : "translate(0, -50%)",
      fontWeight: bold ? 700 : 400, fontStyle: italic ? "italic" : "normal", color,
    }}>{children}</div>
  );
}

function VTitle({ x, y, lines, size }: { x: number; y: number; lines: string[]; size: number }) {
  return (
    <div style={{
      position: "absolute", left: x, top: y, whiteSpace: "nowrap", fontSize: size, lineHeight: 1.25,
      transform: "translate(-50%, -50%) rotate(-90deg)", textAlign: "center", color: "#1a1a1a",
    }}>{lines.map((l, i) => <div key={i}>{l}</div>)}</div>
  );
}

function Letter({ x, y, ch }: { x: number; y: number; ch: string }) {
  return <div style={{ position: "absolute", left: x, top: y, fontSize: 16, fontWeight: 700, lineHeight: 1, color: "#000", transform: "scaleX(0.85)", transformOrigin: "left top" }}>{ch}</div>;
}

function KwRow({ labelX, y, axisX, plotRight, values }: { labelX: number; y: number; axisX: number; plotRight: number; values: string[] }) {
  const u = (plotRight - axisX) / 16;
  return (
    <>
      <Txt x={labelX} y={y} align="left">KW Test</Txt>
      {values.map((v, d) => (
        <Txt key={d} x={axisX + (4 * d + 2) * u} y={y} bold={v !== "NS"} italic={v !== "NS"}>{v}</Txt>
      ))}
    </>
  );
}

function StatTable({ x0, x1, labelX, cols, rows }: { x0: number; x1: number; labelX: number; cols: number[]; rows: string[][] }) {
  return (
    <>
      {rows.map((r, i) => (
        <React.Fragment key={i}>
          <div style={{ position: "absolute", left: x0, top: 565 + i * 9, width: x1 - x0, height: 9, background: i === 1 ? "#f5f5f5" : "#e6e6e6" }} />
          <Txt x={labelX} y={569.5 + i * 9} size={5.8}>{r[0]}</Txt>
          <Txt x={cols[0]} y={569.5 + i * 9} size={6}>{r[1]}</Txt>
          <Txt x={cols[1]} y={569.5 + i * 9} size={6}>{r[2]}</Txt>
        </React.Fragment>
      ))}
    </>
  );
}

function LegendDot({ x, y, fill, edge }: { x: number; y: number; fill: string; edge: string }) {
  return <div style={{ position: "absolute", left: x - 3.3, top: y - 3.3, width: 6.6, height: 6.6, borderRadius: "50%", background: fill, boxSizing: "border-box", border: `0.7px solid ${edge}` }} />;
}

const CD4_AIM = ["Spike-specific CD4⁺ T cells (%)", "AIM⁺ (OX40⁺CD137⁺)"];
const CD4_CYT = ["Spike-specific CD4⁺ T cells (%)", "Cytokine⁺"];
const TFH_AIM = ["Spike-specific CD4⁺ cTfh cells (%)", "AIM⁺ (CXCR5⁺OX40⁺CD40L⁺)"];
const CD8_AIM = ["Spike-specific CD8⁺ T cells (%)", "AIM⁺ (CD69⁺CD137⁺)"];
const CD8_CYT = ["Spike-specific CD8⁺ T cells (%)", "Cytokine⁺"];

export default function App() {
  useEffect(() => { document.body.style.margin = "0"; }, []);
  const L = { a: 34, b: 288, c: 535 };
  const R = { a: 234, b: 488, c: 733 };
  return (
    <div style={{ position: "absolute", left: 0, top: 0, width: 787, height: 594, background: "#fff", overflow: "hidden", fontFamily: FONT, color: "#1a1a1a" }}>
      {/* tables first (behind) */}
      <StatTable x0={0} x1={83} labelX={17} cols={[46, 68]} rows={I_SPIKE_TABLE} />
      <StatTable x0={96} x1={180} labelX={115} cols={[143, 167]} rows={I_RBD_TABLE} />
      <StatTable x0={192} x1={281} labelX={210} cols={[238, 264]} rows={I_PSV_TABLE} />
      <StatTable x0={307} x1={393} labelX={327} cols={[353, 375]} rows={J_AIM_TABLE} />
      <StatTable x0={405} x1={491} labelX={424} cols={[452, 473]} rows={J_CYT_TABLE} />
      <StatTable x0={527} x1={612} labelX={547} cols={[575, 598]} rows={K_AIM_TABLE} />
      <StatTable x0={623} x1={708} labelX={645} cols={[670, 694]} rows={K_CYT_TABLE} />

      {/* row 1 */}
      <GroupedPanel axisX={L.a} plotRight={R.a} plotTop={20} plotBottom={121} yMin={3} yMax={10000} ticks={IGG_TICKS} tickLabels={IGG_TICK_LABELS} groups={[A_18_55, A_56_70, A_70]} lod={10} brackets={A_BRACKETS} />
      <GroupedPanel axisX={L.b} plotRight={R.b} plotTop={20} plotBottom={121} yMin={3} yMax={10000} ticks={IGG_TICKS} tickLabels={IGG_TICK_LABELS} groups={[B_18_55, B_56_70, B_70]} lod={10} brackets={B_BRACKETS} />
      <GroupedPanel axisX={L.c} plotRight={R.c} plotTop={20} plotBottom={121} yMin={10} yMax={10000} ticks={IGG_TICKS} tickLabels={IGG_TICK_LABELS} groups={[C_18_55, C_56_70, C_70]} lod={20} brackets={C_BRACKETS} />
      {/* row 2 */}
      <GroupedPanel axisX={L.a} plotRight={R.a} plotTop={162} plotBottom={263} yMin={0.02} yMax={5} ticks={PCT5_TICKS} tickLabels={PCT5_TICK_LABELS} groups={[D_18_55, D_56_70, D_70]} lod={0.03} brackets={D_BRACKETS} />
      <GroupedPanel axisX={L.b} plotRight={R.b} plotTop={163} plotBottom={263} yMin={0.005} yMax={10} ticks={PCT10_TICKS} tickLabels={PCT10_TICK_LABELS} groups={[E_18_55, E_56_70, E_70]} lod={0.01} brackets={E_BRACKETS} />
      <GroupedPanel axisX={L.c} plotRight={R.c} plotTop={162} plotBottom={263} yMin={0.02} yMax={5} ticks={PCT5_TICKS} tickLabels={PCT5_TICK_LABELS} groups={[F_18_55, F_56_70, F_70]} lod={0.03} brackets={F_BRACKETS} />
      {/* row 3 */}
      <GroupedPanel axisX={L.a} plotRight={R.a} plotTop={308} plotBottom={409} yMin={0.015} yMax={5} ticks={PCT5_TICKS} tickLabels={PCT5_TICK_LABELS} groups={[G_18_55, G_56_70, G_70]} lod={0.035} brackets={G_BRACKETS} />
      <GroupedPanel axisX={L.b} plotRight={R.b} plotTop={308} plotBottom={410} yMin={0.005} yMax={10} ticks={PCT10_TICKS} tickLabels={PCT10_TICK_LABELS} groups={[H_18_55, H_56_70, H_70]} lod={0.01} brackets={H_BRACKETS} />
      {/* row 4 */}
      <PairPanel axisX={37} plotRight={82} plotTop={459} plotBottom={558} cols={[46, 68]} yMin={4} yMax={100000} ticks={IGG5_TICKS} tickLabels={IGG5_TICK_LABELS} low={I_SPIKE_25} high={I_SPIKE_100} centers={I_SPIKE_CENTER} lod={10} pText={P_I[0]} />
      <PairPanel axisX={132} plotRight={178} plotTop={459} plotBottom={558} cols={[143, 167]} yMin={4} yMax={100000} ticks={IGG5_TICKS} tickLabels={IGG5_TICK_LABELS} low={I_RBD_25} high={I_RBD_100} centers={I_RBD_CENTER} lod={10} pText={P_I[1]} />
      <PairPanel axisX={226} plotRight={280} plotTop={459} plotBottom={560} cols={[238, 264]} yMin={10} yMax={100000} ticks={IGG5_TICKS} tickLabels={IGG5_TICK_LABELS} low={I_PSV_25} high={I_PSV_100} centers={I_PSV_CENTER} lod={20} pText={P_I[2]} />
      <PairPanel axisX={338} plotRight={392} plotTop={459} plotBottom={560} cols={[353, 375]} yMin={0.02} yMax={5} ticks={PCT5_TICKS} tickLabels={PCT5_TICK_LABELS} low={J_AIM_25} high={J_AIM_100} centers={J_AIM_CENTER} lod={0.03} pText={P_J[0]} />
      <PairPanel axisX={438} plotRight={490} plotTop={459} plotBottom={560} cols={[452, 473]} yMin={0.005} yMax={5} ticks={PCT5B_TICKS} tickLabels={PCT5B_TICK_LABELS} low={J_CYT_25} high={J_CYT_100} centers={J_CYT_CENTER} lod={0.01} pText={P_J[1]} />
      <PairPanel axisX={562} plotRight={612} plotTop={459} plotBottom={560} cols={[575, 598]} yMin={0.03} yMax={5} ticks={PCT5_TICKS} tickLabels={PCT5_TICK_LABELS} low={K_AIM_25} high={K_AIM_100} centers={K_AIM_CENTER} lod={0.057} pText={P_K[0]} />
      <PairPanel axisX={655} plotRight={707} plotTop={459} plotBottom={560} cols={[670, 694]} yMin={0.005} yMax={10} ticks={PCT10_TICKS} tickLabels={PCT10_TICK_LABELS} low={K_CYT_25} high={K_CYT_100} centers={K_CYT_CENTER} lod={0.01} pText={P_K[1]} />

      {/* panel letters */}
      <Letter x={3} y={1} ch="A" />
      <Letter x={247} y={1} ch="B" />
      <Letter x={500} y={1} ch="C" />
      <Letter x={3} y={145} ch="D" />
      <Letter x={248} y={145} ch="E" />
      <Letter x={502} y={145} ch="F" />
      <Letter x={3} y={298} ch="G" />
      <Letter x={248} y={296} ch="H" />
      <Letter x={3} y={448} ch="I" />
      <Letter x={305} y={447} ch="J" />
      <Letter x={530} y={447} ch="K" />

      {/* axis titles */}
      <VTitle x={12} y={70} lines={["Spike IgG (ET)"]} size={7.8} />
      <VTitle x={265} y={68} lines={["RBD IgG (ET)"]} size={7.8} />
      <VTitle x={518} y={70} lines={["PSV Neutralization Titer"]} size={7.6} />
      <VTitle x={11} y={212} lines={CD4_AIM} size={5.8} />
      <VTitle x={268} y={210} lines={CD4_CYT} size={5.8} />
      <VTitle x={513} y={212} lines={TFH_AIM} size={5.8} />
      <VTitle x={11} y={357} lines={CD8_AIM} size={5.8} />
      <VTitle x={268} y={355} lines={CD8_CYT} size={5.8} />
      <VTitle x={8} y={509} lines={["Spike IgG (ET)"]} size={8} />
      <VTitle x={103} y={508} lines={["RBD IgG (ET)"]} size={8} />
      <VTitle x={197} y={508} lines={["PSV Neutralization Titer"]} size={7.8} />
      <VTitle x={315} y={508} lines={CD4_AIM} size={5.8} />
      <VTitle x={413} y={506} lines={CD4_CYT} size={5.8} />
      <VTitle x={536} y={506} lines={CD8_AIM} size={5.8} />
      <VTitle x={630} y={506} lines={CD8_CYT} size={5.8} />

      {/* Kruskal-Wallis rows */}
      <KwRow labelX={5} y={140} axisX={L.a} plotRight={R.a} values={KW_A} />
      <KwRow labelX={260} y={140} axisX={L.b} plotRight={R.b} values={KW_B} />
      <KwRow labelX={507} y={140} axisX={L.c} plotRight={R.c} values={KW_C} />
      <KwRow labelX={5} y={283} axisX={L.a} plotRight={R.a} values={KW_D} />
      <KwRow labelX={259} y={283} axisX={L.b} plotRight={R.b} values={KW_E} />
      <KwRow labelX={507} y={283} axisX={L.c} plotRight={R.c} values={KW_F} />
      <KwRow labelX={5} y={428} axisX={L.a} plotRight={R.a} values={KW_G} />
      <KwRow labelX={259} y={428} axisX={L.b} plotRight={R.b} values={KW_H} />

      {/* legends */}
      {AGE_GROUPS.map((g, i) => (
        <React.Fragment key={g}>
          <LegendDot x={738} y={21 + i * 11} fill={AGE_FILL[i]} edge={AGE_EDGE[i]} />
          <Txt x={747} y={21 + i * 11} align="left" size={6.8}>{g}</Txt>
        </React.Fragment>
      ))}
      {DOSES.map((g, i) => (
        <React.Fragment key={g}>
          <LegendDot x={719} y={463 + i * 14} fill={DOSE_FILL[i]} edge={DOSE_EDGE[i]} />
          <Txt x={727} y={463 + i * 14} align="left" size={6.5}>{g}</Txt>
        </React.Fragment>
      ))}
    </div>
  );
}
